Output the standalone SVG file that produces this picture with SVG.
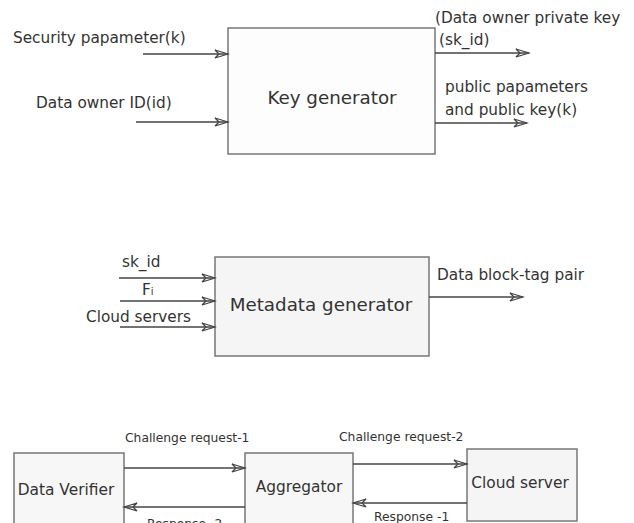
<svg xmlns="http://www.w3.org/2000/svg" width="634" height="523" viewBox="0 0 634 523">
<defs>
<style>
text{font-family:"DejaVu Sans",Verdana,sans-serif;fill:#333}
.lbl{font-size:15.3px}
.big{font-size:18.3px;text-anchor:middle}
.mid{font-size:15.4px;text-anchor:middle}
.sm{font-size:12.3px}
.box{stroke:#777;stroke-width:1.5}
.c{stroke:#444;stroke-width:1.6;fill:none}
</style>
<marker id="ah" markerUnits="userSpaceOnUse" markerWidth="16" markerHeight="10" refX="14" refY="5" orient="auto">
<path d="M1,1 L14,5 L1,9 L5,5 Z" fill="none" stroke="#444" stroke-width="1.3"/>
</marker>
</defs>
<rect width="634" height="523" fill="#fff"/>
<g id="key-generator">
<rect class="box" x="228" y="28" width="207" height="126" fill="#fdfdfd"/>
<text class="big" x="332" y="104">Key generator</text>
</g>
<g id="metadata-generator">
<rect class="box" x="215" y="257" width="214" height="99" fill="#f5f5f5"/>
<text class="big" x="321" y="311">Metadata generator</text>
</g>
<g id="data-verifier">
<rect class="box" x="14" y="453" width="110" height="80" fill="#f7f7f7"/>
<text class="mid" x="66" y="495">Data Verifier</text>
</g>
<g id="aggregator">
<rect class="box" x="245" y="453" width="108" height="80" fill="#f7f7f7"/>
<text class="mid" x="299" y="492">Aggregator</text>
</g>
<g id="cloud-server">
<rect class="box" x="467" y="449" width="110" height="72" fill="#f5f5f5"/>
<text class="mid" x="520" y="488">Cloud server</text>
</g>
<g id="connectors">
<line class="c" x1="143" y1="54" x2="228" y2="54" marker-end="url(#ah)"/>
<line class="c" x1="136" y1="122" x2="228" y2="122" marker-end="url(#ah)"/>
<line class="c" x1="435" y1="53" x2="529" y2="53" marker-end="url(#ah)"/>
<line class="c" x1="435" y1="123" x2="527" y2="123" marker-end="url(#ah)"/>
<line class="c" x1="119" y1="278" x2="215" y2="278" marker-end="url(#ah)"/>
<line class="c" x1="120" y1="301" x2="215" y2="301" marker-end="url(#ah)"/>
<line class="c" x1="120" y1="327" x2="215" y2="327" marker-end="url(#ah)"/>
<line class="c" x1="429" y1="297" x2="523" y2="297" marker-end="url(#ah)"/>
<line class="c" x1="124" y1="468" x2="245" y2="468" marker-end="url(#ah)"/>
<line class="c" x1="245" y1="507" x2="124" y2="507" marker-end="url(#ah)"/>
<line class="c" x1="353" y1="464" x2="467" y2="464" marker-end="url(#ah)"/>
<line class="c" x1="467" y1="503" x2="353" y2="503" marker-end="url(#ah)"/>
</g>
<g id="labels">
<text class="lbl" x="13" y="43">Security papameter(k)</text>
<text class="lbl" x="36" y="108">Data owner ID(id)</text>
<text class="lbl" x="435" y="23">(Data owner private key</text>
<text class="lbl" x="439" y="45">(sk_id)</text>
<text class="lbl" x="445" y="92">public papameters</text>
<text class="lbl" x="445" y="115">and public key(k)</text>
<text class="lbl" x="122" y="267">sk_id</text>
<text class="lbl" x="142" y="295">F<tspan font-size="10">i</tspan></text>
<text class="lbl" x="86" y="322">Cloud servers</text>
<text class="lbl" x="437" y="280">Data block-tag pair</text>
<text class="sm" x="125" y="442">Challenge request-1</text>
<text class="sm" x="339" y="441">Challenge request-2</text>
<text class="sm" x="147" y="528">Response -2</text>
<text class="sm" x="374" y="521">Response -1</text>
</g>
</svg>
